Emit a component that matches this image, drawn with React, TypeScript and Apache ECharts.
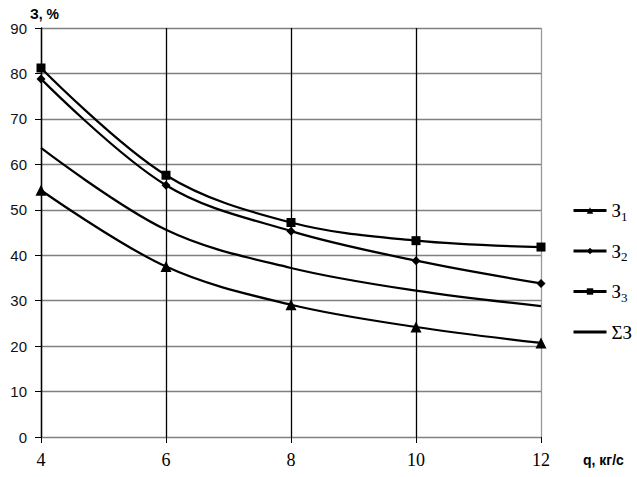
import React, { useEffect, useRef } from "react";
import * as echarts from "echarts";

const qValues = [4, 6, 8, 10, 12];
const z1 = [54.3, 37.5, 29.1, 24.2, 20.7];
const z2 = [78.8, 55.4, 45.3, 38.8, 33.8];
const z3 = [81.2, 57.6, 47.2, 43.2, 41.8];
const zSum = [63.6, 45.6, 37.2, 32.2, 28.8];

const seriesNames = ["З1", "З2", "З3", "ΣЗ"];
const yTicks = [0, 10, 20, 30, 40, 50, 60, 70, 80, 90];

export default function App() {
  const ref = useRef<HTMLDivElement>(null);
  useEffect(() => {
    if (!ref.current) return;
    const chart = echarts.init(ref.current, undefined, { renderer: "svg" });
    const mk = (arr: number[]) => qValues.map((q, i) => [q, arr[i]]);
    const lineStyle = { color: "#000", width: 2.2 };
    chart.setOption({
      animation: false,
      backgroundColor: "#fff",
      grid: { left: 41, right: 96, top: 28, bottom: 40 },
      xAxis: {
        type: "value",
        min: 4,
        max: 12,
        interval: 2,
        name: "q, кг/с",
        nameLocation: "end",
        nameGap: 42,
        nameTextStyle: {
          fontFamily: "Liberation Sans, Arial, sans-serif",
          fontWeight: "bold",
          fontSize: 14,
          color: "#000",
          verticalAlign: "top",
          padding: [16, 0, 0, 0],
        },
        axisLine: { show: true, lineStyle: { color: "#808080", width: 1 } },
        axisTick: { show: true, length: 6, lineStyle: { color: "#000" } },
        axisLabel: {
          fontFamily: "Liberation Serif, Times New Roman, serif",
          fontSize: 18,
          color: "#000",
          margin: 14,
        },
        splitLine: {
          show: true,
          lineStyle: { color: ["#000", "#000", "#000", "#000", "#999"], width: 1.3 },
        },
      },
      yAxis: {
        type: "value",
        min: 0,
        max: 90,
        interval: 10,
        name: "З, %",
        nameLocation: "end",
        nameGap: 6,
        nameTextStyle: {
          fontFamily: "Liberation Sans, Arial, sans-serif",
          fontWeight: "bold",
          fontSize: 14,
          color: "#000",
          align: "left",
          padding: [0, 0, 0, -11],
        },
        axisLine: { show: true, lineStyle: { color: "#000", width: 1.3 } },
        axisTick: { show: true, length: 6, lineStyle: { color: "#000" } },
        axisLabel: {
          fontFamily: "Liberation Sans, Arial, sans-serif",
          fontSize: 15,
          color: "#111",
          margin: 14,
          formatter: (v: number) => (yTicks.includes(v) ? String(v) : ""),
        },
        splitLine: { show: true, lineStyle: { color: "#808080", width: 1.3 } },
      },
      legend: {
        orient: "vertical",
        left: 567,
        top: 196,
        itemWidth: 33,
        itemHeight: 8,
        itemGap: 19,
        lineStyle: { width: 3 },
        data: [
          { name: seriesNames[0] },
          { name: seriesNames[1] },
          { name: seriesNames[2] },
          { name: seriesNames[3], itemStyle: { opacity: 0 } },
        ],
        formatter: (name: string) => {
          if (name === "ΣЗ") return "{b|ΣЗ}";
          return "{b|З}{s|" + name.slice(1) + "}";
        },
        textStyle: {
          color: "#000",
          rich: {
            b: { fontFamily: "Liberation Serif, Times New Roman, serif", fontSize: 19, color: "#000" },
            s: { fontFamily: "Liberation Serif, Times New Roman, serif", fontSize: 13, color: "#000", verticalAlign: "bottom", padding: [11, 0, 0, 0] },
          },
        },
      },
      series: [
        { name: "З1", type: "line", data: mk(z1), smooth: 0.35, symbol: "triangle", symbolSize: 11, lineStyle, itemStyle: { color: "#000" } },
        { name: "З2", type: "line", data: mk(z2), smooth: 0.35, symbol: "diamond", symbolSize: 9, lineStyle, itemStyle: { color: "#000" } },
        { name: "З3", type: "line", data: mk(z3), smooth: 0.35, symbol: "rect", symbolSize: 9, lineStyle, itemStyle: { color: "#000" } },
        { name: "ΣЗ", type: "line", data: mk(zSum), smooth: 0.35, symbol: "none", lineStyle, itemStyle: { color: "#000" } },
      ],
    });
    return () => chart.dispose();
  }, []);
  return <div ref={ref} style={{ width: 637, height: 477, position: "absolute", left: 0, top: 0 }} />;
}
